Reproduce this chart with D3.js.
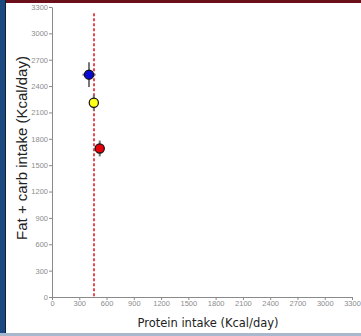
<!DOCTYPE html>
<html>
<head>
<meta charset="utf-8">
<script src="https://cdn.jsdelivr.net/npm/d3@7"></script>
<style>
  body { margin: 0; background: #fff; }
  #chart { width: 361px; height: 336px; }
</style>
</head>
<body>
<div id="chart"></div>
<script>
// data
const groups = ['blue', 'yellow', 'red']
const protein = [407, 460, 525]
const proteinErr = [72, 0, 18]
const fatCarb = [2530, 2210, 1690]
const fatCarbErr = [140, 90, 90]
const pointColors = ['#0a0ad8', '#ffff1a', '#e8000b']
const xTicks = d3.range(0, 3301, 300)
const yTicks = d3.range(0, 3301, 300)
const thresholdX = 462

const width = 361
const height = 336
const margin = { top: 7, right: 9, bottom: 39, left: 52 }
const innerW = width - margin.left - margin.right
const innerH = height - margin.top - margin.bottom

const svg = d3.select('#chart').append('svg')
  .attr('width', width)
  .attr('height', height)

// frame around the slide
svg.append('rect').attr('x', 0).attr('y', 0).attr('width', width).attr('height', height).attr('fill', '#fff')
svg.append('rect').attr('x', 0).attr('y', 0).attr('width', width).attr('height', 3).attr('fill', '#6b0f1a')
svg.append('rect').attr('x', 0).attr('y', 0).attr('width', 5).attr('height', height).attr('fill', '#1c4a80')
svg.append('rect').attr('x', 5).attr('y', 0).attr('width', 1).attr('height', height).attr('fill', '#0d2238')
svg.append('rect').attr('x', 0).attr('y', 333).attr('width', width).attr('height', 3).attr('fill', '#a9b8cc')

const g = svg.append('g')
  .attr('transform', 'translate(' + margin.left + ',' + margin.top + ')')

const x = d3.scaleLinear().domain([0, 3300]).range([0, innerW])
const y = d3.scaleLinear().domain([0, 3300]).range([innerH, 0])

const fmt = d3.format('d')
const xAxis = g.append('g')
  .attr('transform', 'translate(0,' + innerH + ')')
  .call(d3.axisBottom(x).tickValues(xTicks).tickFormat(fmt).tickSize(3).tickSizeOuter(0).tickPadding(1))
const yAxis = g.append('g')
  .call(d3.axisLeft(y).tickValues(yTicks).tickFormat(fmt).tickSize(3).tickSizeOuter(0).tickPadding(1))

for (const ax of [xAxis, yAxis]) {
  ax.select('.domain').attr('stroke', '#8a8a8a')
  ax.selectAll('.tick line').attr('stroke', '#8a8a8a')
  ax.selectAll('.tick text')
    .attr('fill', '#8c8c8c')
    .attr('font-family', 'Liberation Sans Narrow, Liberation Sans, Arial, sans-serif')
    .attr('font-size', 7.5)
}

// threshold line
g.append('line')
  .attr('x1', x(thresholdX)).attr('x2', x(thresholdX))
  .attr('y1', y(3230)).attr('y2', y(0))
  .attr('stroke', '#e0101a')
  .attr('stroke-width', 1.5)
  .attr('stroke-dasharray', '3,2')

const pts = groups.map((k, i) => ({
  key: k, px: protein[i], pe: proteinErr[i], fc: fatCarb[i], fe: fatCarbErr[i], color: pointColors[i]
}))

// error bars
g.selectAll('.vbar').data(pts).join('line')
  .attr('class', 'vbar')
  .attr('x1', d => x(d.px)).attr('x2', d => x(d.px))
  .attr('y1', d => y(d.fc - d.fe)).attr('y2', d => y(d.fc + d.fe))
  .attr('stroke', '#777').attr('stroke-width', 2)
g.selectAll('.hbar').data(pts.filter(d => d.pe > 0)).join('line')
  .attr('class', 'hbar')
  .attr('x1', d => x(d.px - d.pe)).attr('x2', d => x(d.px + d.pe))
  .attr('y1', d => y(d.fc)).attr('y2', d => y(d.fc))
  .attr('stroke', '#777').attr('stroke-width', 2)

g.selectAll('.pt').data(pts).join('circle')
  .attr('class', 'pt')
  .attr('cx', d => x(d.px))
  .attr('cy', d => y(d.fc))
  .attr('r', 4.6)
  .attr('fill', d => d.color)
  .attr('stroke', '#111')
  .attr('stroke-width', 1.2)

// axis titles
svg.append('text')
  .text('Protein intake (Kcal/day)')
  .attr('x', 208)
  .attr('y', 327)
  .attr('text-anchor', 'middle')
  .attr('font-family', 'DejaVu Sans, Verdana, sans-serif')
  .attr('font-size', 11.5)
  .attr('fill', '#222')

svg.append('text')
  .text('Fat + carb intake (Kcal/day)')
  .attr('transform', 'translate(27,148) rotate(-90)')
  .attr('text-anchor', 'middle')
  .attr('font-family', 'Liberation Sans, Arial, sans-serif')
  .attr('font-size', 15)
  .attr('fill', '#222')
</script>
</body>
</html>
